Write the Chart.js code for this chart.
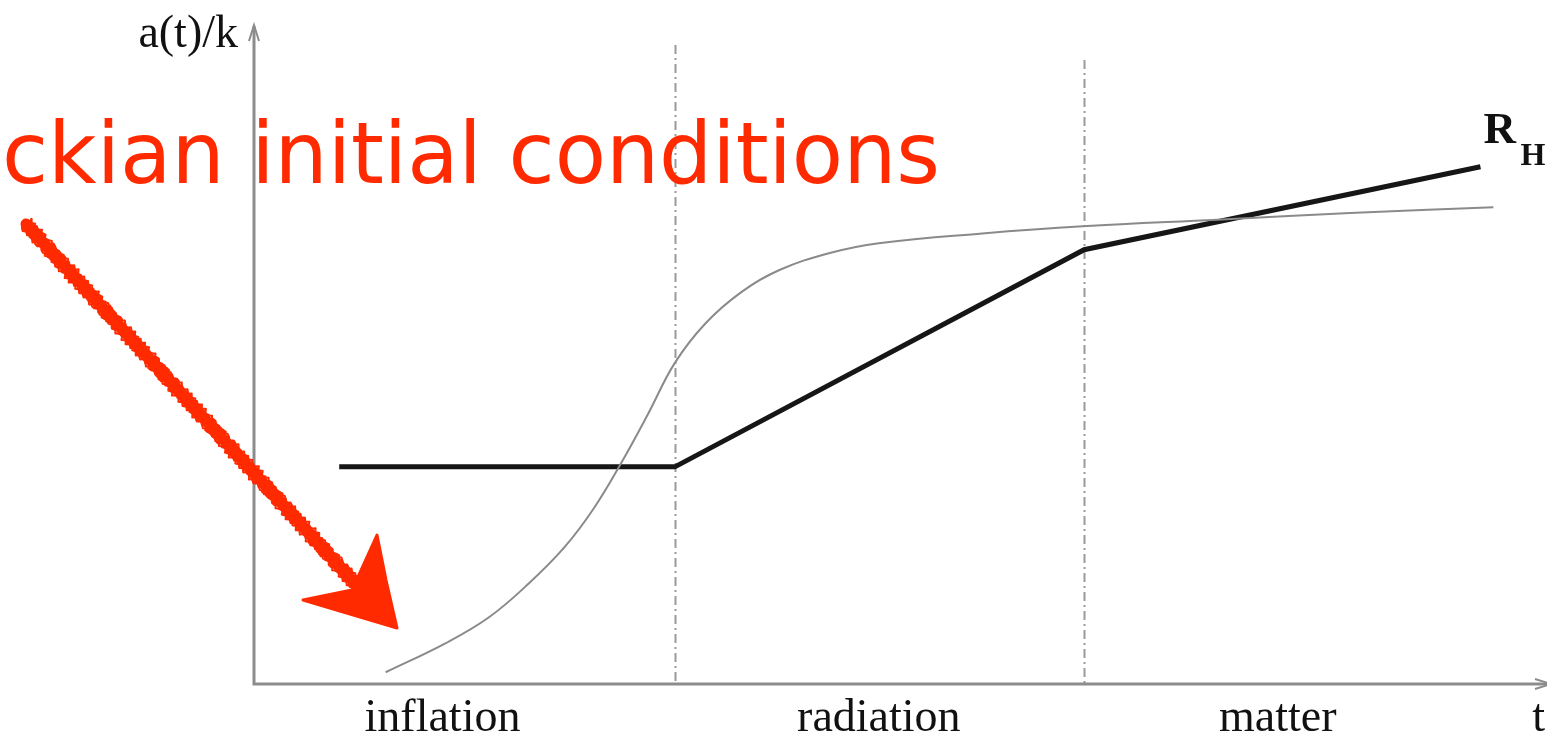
<!DOCTYPE html>
<html>
<head>
<meta charset="utf-8">
<style>
  html, body { margin: 0; padding: 0; background: #ffffff; }
  #wrap { width: 1547px; height: 737px; }
</style>
<script src="https://cdn.jsdelivr.net/npm/chart.js@4"></script>
</head>
<body>
<div id="wrap"><canvas id="c" width="1547" height="737"></canvas></div>
<script>
// Comoving Hubble radius R_H(t) (thick broken line), piecewise across the eras
const hubbleT = [0.66, 3.26, 6.43, 9.50];
const hubbleR = [3.32, 3.32, 6.64, 7.91];

// Physical wavelength of a mode, a(t)/k (thin grey curve)
const modeT = [1.02, 1.49, 1.82, 2.13, 2.40, 2.63, 2.85, 3.05, 3.26,
               3.50, 3.78, 4.07, 4.46, 4.84, 5.64, 6.42, 7.46, 8.49, 9.60];
const modeA = [0.18, 0.63, 1.02, 1.54, 2.08, 2.68, 3.40, 4.12, 4.91,
               5.52, 6.00, 6.33, 6.59, 6.74, 6.89, 7.00, 7.10, 7.20, 7.29];

// Era transitions (end of inflation, matter-radiation equality)
const eraBoundaries = [3.26, 6.43];
const eraBoundaryTops = [9.77, 9.54];

// Era names along the time axis and where they sit
const eraNames = ['inflation', 'radiation', 'matter'];
const eraLabelT = [1.46, 4.84, 7.93];

const yAxisTitle = 'a(t)/k';
const xAxisTitle = 't';
const curveLabelMain = 'R';
const curveLabelSub = 'H';
const noteText = 'ckian initial conditions';

const SERIF = '"Liberation Serif", "DejaVu Serif", "Times New Roman", serif';

const toPoints = (xs, ys) => xs.map((x, i) => ({ x: x, y: ys[i] }));

// Axes with arrowheads, era separators and text
const decorations = {
  id: 'decorations',
  beforeDatasetsDraw(chart) {
    const { ctx, chartArea: a, scales: { x, y } } = chart;
    ctx.save();
    // era separators: dash-dot verticals
    ctx.strokeStyle = '#9a9a9a';
    ctx.lineWidth = 2;
    ctx.setLineDash([9, 4, 2, 4]);
    eraBoundaries.forEach((t, i) => {
      const px = Math.round(x.getPixelForValue(t)) + 0.5;
      ctx.beginPath();
      ctx.moveTo(px, y.getPixelForValue(eraBoundaryTops[i]));
      ctx.lineTo(px, y.getPixelForValue(0));
      ctx.stroke();
    });
    ctx.setLineDash([]);

    // axes
    ctx.strokeStyle = '#8c8c8c';
    ctx.lineWidth = 3;
    const x0 = x.getPixelForValue(0), y0 = y.getPixelForValue(0);
    ctx.beginPath();
    ctx.moveTo(x0, y0);
    ctx.lineTo(x0, a.top - 4);
    ctx.moveTo(x0 - 1.5, y0);
    ctx.lineTo(a.right + 6, y0);
    ctx.stroke();
    // arrowheads
    ctx.lineWidth = 2;
    ctx.beginPath();
    ctx.moveTo(x0 - 5, a.top + 11);
    ctx.lineTo(x0, a.top - 5);
    ctx.lineTo(x0 + 5, a.top + 11);
    ctx.moveTo(a.right - 10, y0 - 5);
    ctx.lineTo(a.right + 6, y0);
    ctx.lineTo(a.right - 10, y0 + 5);
    ctx.stroke();

    // text
    ctx.fillStyle = '#111111';
    ctx.font = '46px ' + SERIF;
    ctx.textBaseline = 'alphabetic';
    ctx.textAlign = 'center';
    eraNames.forEach((name, i) => {
      ctx.fillText(name, x.getPixelForValue(eraLabelT[i]), 731);
    });
    ctx.textAlign = 'right';
    ctx.fillText(xAxisTitle, 1545, 731);
    ctx.fillText(yAxisTitle, x0 - 16, 47);

    // curve label R_H beside the last point of the Hubble radius
    const lx = x.getPixelForValue(hubbleT[hubbleT.length - 1]);
    ctx.textAlign = 'left';
    ctx.font = 'bold 45px ' + SERIF;
    ctx.fillText(curveLabelMain, lx + 3, 143);
    ctx.font = 'bold 32px ' + SERIF;
    ctx.fillText(curveLabelSub, lx + 40, 165);
    ctx.restore();
  },
  afterDraw(chart) {
    const { ctx } = chart;
    ctx.save();
    const red = '#ff2a00';
    // handwritten note
    ctx.fillStyle = red;
    ctx.font = '86px "DejaVu Sans", "Noto Sans", sans-serif';
    ctx.textBaseline = 'alphabetic';
    ctx.textAlign = 'left';
    const w = ctx.measureText(noteText).width;
    ctx.save();
    ctx.translate(2, 183);
    ctx.scale(938 / w, 1);
    ctx.fillText(noteText, 0, 0);
    ctx.restore();

    // marker-drawn arrow pointing at the start of the mode curve
    const sx = 26, sy = 224, ex = 372, ey = 602;
    const len = Math.hypot(ex - sx, ey - sy);
    const ux = (ex - sx) / len, uy = (ey - sy) / len;
    const nx = -uy, ny = ux;
    ctx.strokeStyle = red;
    ctx.lineCap = 'round';
    ctx.lineJoin = 'round';
    ctx.lineWidth = 11;
    ctx.beginPath();
    ctx.moveTo(sx, sy);
    ctx.lineTo(ex, ey);
    ctx.stroke();
    // ragged marker edges
    ctx.lineWidth = 2;
    for (let k = 0; k < 4; k++) {
      const side = k % 2 === 0 ? 1 : -1;
      ctx.beginPath();
      for (let s = 0; s <= len; s += 3) {
        const off = side * (5.5 + 1.6 * Math.sin(s * 0.9 + k * 2.3) + 1.1 * Math.sin(s * 0.37 + k));
        const px = sx + ux * s + nx * off;
        const py = sy + uy * s + ny * off;
        if (s === 0) ctx.moveTo(px, py); else ctx.lineTo(px, py);
      }
      ctx.stroke();
    }
    ctx.fillStyle = red;
    ctx.lineWidth = 3;
    ctx.beginPath();
    ctx.moveTo(377, 535);
    ctx.lineTo(386, 580);
    ctx.lineTo(397, 628);
    ctx.lineTo(350, 614);
    ctx.lineTo(303, 600);
    ctx.lineTo(352, 590);
    ctx.closePath();
    ctx.fill();
    ctx.stroke();
    ctx.restore();
  }
};

new Chart(document.getElementById('c'), {
  type: 'line',
  data: {
    datasets: [
      {
        label: 'a(t)/k',
        data: toPoints(modeT, modeA),
        borderColor: '#8a8a8a',
        borderWidth: 2,
        pointRadius: 0,
        tension: 0.4,
        fill: false
      },
      {
        label: 'R_H',
        data: toPoints(hubbleT, hubbleR),
        borderColor: '#161616',
        borderWidth: 5,
        pointRadius: 0,
        tension: 0,
        fill: false
      }
    ]
  },
  options: {
    responsive: false,
    animation: false,
    events: [],
    layout: { padding: { left: 254, right: 2, top: 30, bottom: 53 } },
    plugins: { legend: { display: false }, tooltip: { enabled: false } },
    scales: {
      x: { type: 'linear', min: 0, max: 10, display: false },
      y: { type: 'linear', min: 0, max: 10, display: false }
    }
  },
  plugins: [decorations]
});
</script>
</body>
</html>
